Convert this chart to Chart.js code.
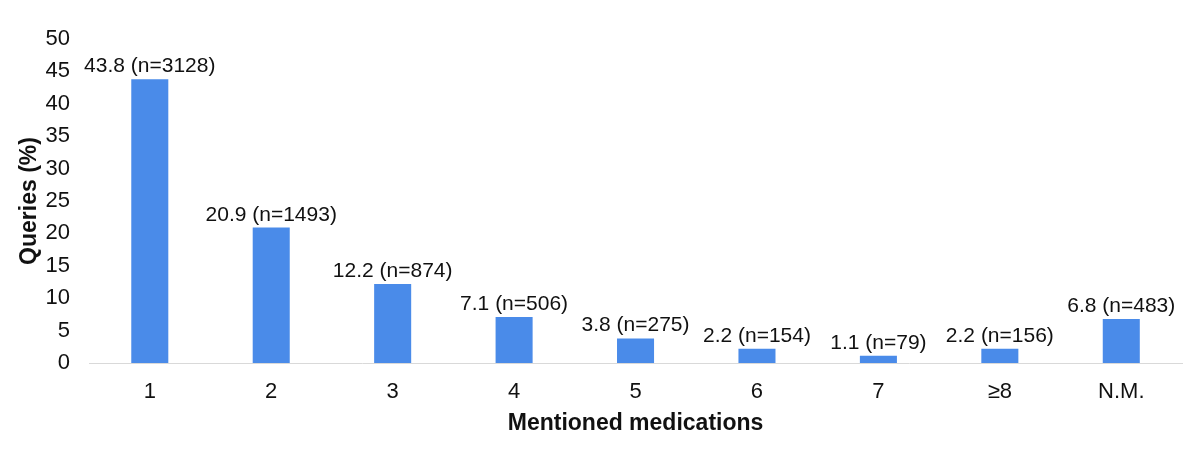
<!DOCTYPE html>
<html lang="en">
<head>
    <meta charset="UTF-8">
    <title>Mentioned medications</title>
    <script src="https://cdn.jsdelivr.net/npm/chart.js"></script>
    <style>
        html, body { margin: 0; padding: 0; background: #fff; }
        .chart-box { width: 1200px; height: 460px; }
    </style>
</head>
<body>
<div class="chart-box">
    <canvas id="bar-chart"></canvas>
</div>
<script>
    const categories = ['1', '2', '3', '4', '5', '6', '7', '\u22658', 'N.M.'];
    const percents = [43.8, 20.9, 12.2, 7.1, 3.8, 2.2, 1.1, 2.2, 6.8];
    const counts = [3128, 1493, 874, 506, 275, 154, 79, 156, 483];

    const font = '"Liberation Sans", Arial, sans-serif';

    // labels above each bar
    const valueLabels = {
        id: 'valueLabels',
        afterDatasetsDraw(chart) {
            const ctx = chart.ctx;
            const meta = chart.getDatasetMeta(0);
            ctx.save();
            ctx.font = '21px ' + font;
            ctx.fillStyle = '#111';
            ctx.textAlign = 'center';
            ctx.textBaseline = 'alphabetic';
            meta.data.forEach((bar, i) => {
                ctx.fillText(percents[i] + ' (n=' + counts[i] + ')', bar.x, bar.y - 7);
            });
            ctx.restore();
        }
    };

    new Chart(document.getElementById('bar-chart'), {
        type: 'bar',
        data: {
            labels: categories,
            datasets: [{
                data: percents,
                backgroundColor: '#4a8be9',
                categoryPercentage: 1,
                barPercentage: 0.305
            }]
        },
        options: {
            responsive: true,
            maintainAspectRatio: false,
            animation: false,
            layout: { padding: { top: 39, right: 18, left: 16, bottom: 19 } },
            plugins: { legend: { display: false }, tooltip: { enabled: false } },
            scales: {
                x: {
                    grid: { display: false, drawTicks: false },
                    border: { color: '#d9d9d9', width: 1 },
                    ticks: { color: '#111', font: { family: font, size: 22 }, padding: 16 },
                    title: {
                        display: true, text: 'Mentioned medications', color: '#111',
                        font: { family: font, size: 23, weight: 'bold' }, padding: { top: -12, bottom: 4 }
                    }
                },
                y: {
                    min: 0, max: 50,
                    grid: { display: false, drawTicks: false },
                    border: { display: false },
                    ticks: { stepSize: 5, color: '#111', font: { family: font, size: 22 }, padding: 19 },
                    title: {
                        display: true, text: 'Queries (%)', color: '#111',
                        font: { family: font, size: 23, weight: 'bold' }, padding: { top: 0, bottom: -17 }
                    }
                }
            }
        },
        plugins: [valueLabels]
    });
</script>
</body>
</html>
